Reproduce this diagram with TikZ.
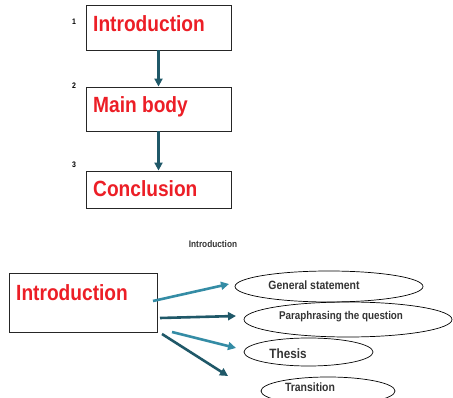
\documentclass[tikz,border=0pt]{standalone}
\usepackage{fontspec}
\setmainfont{Liberation Sans}
\newfontfamily\narrowbold[FakeStretch=0.87]{Liberation Sans Bold}
\usetikzlibrary{arrows.meta,shapes.geometric}
\definecolor{titlered}{RGB}{236,30,38}
\definecolor{darkteal}{RGB}{31,88,104}
\definecolor{lightteal}{RGB}{52,140,165}
\tikzset{
  box/.style={draw=black!85,line width=0.9pt,minimum width=145pt,minimum height=45pt,inner sep=0pt},
  bigtext/.style={anchor=base west,inner sep=0pt,text=titlered,font=\narrowbold\fontsize{22}{24}\selectfont},
  numtext/.style={inner sep=0pt,font=\narrowbold\fontsize{8}{9}\selectfont},
  oval/.style={draw=black,line width=0.7pt,ellipse,inner sep=0pt},
  ovaltext/.style={inner sep=0pt,text=black!80,font=\narrowbold\fontsize{12}{14}\selectfont},
  darrow/.style={draw=darkteal,line width=2.6pt,-{Triangle[length=8pt,width=8pt]}},
  larrow/.style={draw=lightteal,line width=2.6pt,-{Triangle[length=8pt,width=8pt]}},
}
\begin{document}
\begin{tikzpicture}[x=1pt,y=-1pt]
\useasboundingbox (0,0) rectangle (453,398);
\clip (0,0) rectangle (453,398);
% top flow
\node[box] (b1) at (158.5,27.5) {};
\node[box,minimum height=44pt] (b2) at (158.5,109) {};
\node[box,minimum height=37pt] (b3) at (158.5,189.5) {};
\node[bigtext] (t1) at (93,32) {Introduction};
\node[bigtext] (t2) at (93,113) {Main body};
\node[bigtext] (t3) at (93,197) {Conclusion};
\node[numtext] (n1) at (74,22) {1};
\node[numtext] (n2) at (74,86) {2};
\node[numtext] (n3) at (74,165) {3};
\draw[darrow] (b1.south) -- (b2.north);
\draw[darrow] (b2.south) -- (b3.north);
% bottom part
\node[inner sep=0pt,text=black!80,font=\narrowbold\fontsize{9.5}{11}\selectfont] (title) at (213,244) {Introduction};
\node[box,minimum width=148pt,minimum height=59pt] (ib) at (83,302.5) {};
\node[bigtext] (it) at (16,301) {Introduction};
\node[oval,minimum width=188pt,minimum height=31pt] (e1) at (329,286.5) {};
\node[oval,minimum width=208pt,minimum height=35pt] (e2) at (348,319.5) {};
\node[oval,minimum width=129pt,minimum height=28pt] (e3) at (308.5,352) {};
\node[oval,minimum width=134pt,minimum height=28pt] (e4) at (328,391) {};
\node[ovaltext] (g1) at (314,285) {General statement};
\node[ovaltext,font=\narrowbold\fontsize{11.3}{13}\selectfont] (g2) at (341,317) {Paraphrasing the question};
\node[ovaltext,font=\narrowbold\fontsize{13.5}{15}\selectfont] (g3) at (288,354) {Thesis};
\node[ovaltext] (g4) at (310,387) {Transition};
\coordinate (s1) at (153,301);
\coordinate (s2) at (160,318);
\coordinate (s3) at (172,332);
\coordinate (s4) at (162,334);
\coordinate (f1) at (229,284);
\coordinate (f2) at (236,316);
\coordinate (f3) at (236,348);
\coordinate (f4) at (228,376);
\draw[larrow] (s1) -- (f1);
\draw[darrow] (s2) -- (f2);
\draw[larrow] (s3) -- (f3);
\draw[darrow] (s4) -- (f4);
\end{tikzpicture}
\end{document}
